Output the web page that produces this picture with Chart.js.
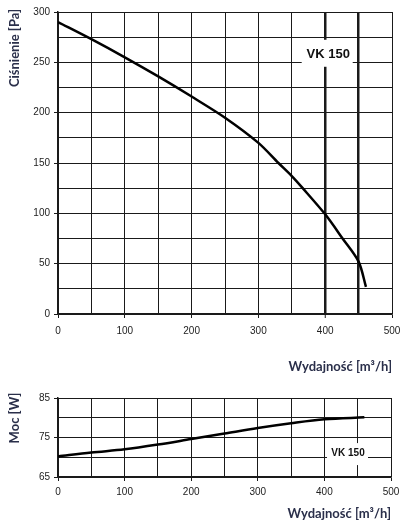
<!DOCTYPE html>
<html>
<head>
<meta charset="utf-8">
<script src="https://cdn.jsdelivr.net/npm/chart.js@4.4.0/dist/chart.umd.min.js"></script>
<style>
  html, body { margin: 0; padding: 0; background: #fff; }
  #wrap { position: relative; width: 401px; height: 528px; }
  #pressureChart { position: absolute; left: 0; top: 0; }
  #powerChart { position: absolute; left: 0; top: 378px; }
</style>
</head>
<body>
<div id="wrap">
  <canvas id="pressureChart" width="401" height="378"></canvas>
  <canvas id="powerChart" width="401" height="150"></canvas>
</div>
<script>
// pressure curve (Wydajność m3/h -> Ciśnienie Pa)
var flowPoints = [0, 50, 100, 150, 200, 250, 300, 330, 350, 365, 400, 426, 450, 461];
var pressureValues = [290, 273, 255, 236, 216, 195, 170, 150, 137, 126, 99, 75, 52, 27];

// power curve (Wydajność m3/h -> Moc W)
var powerFlowPoints = [0, 50, 100, 150, 200, 250, 300, 350, 400, 460];
var powerValues = [70.2, 71.2, 72.0, 73.2, 74.6, 76.0, 77.4, 78.6, 79.6, 80.1];

var flowTickLabels = [0, 100, 200, 300, 400, 500];
var pressureTickLabels = [0, 50, 100, 150, 200, 250, 300];
var powerTickLabels = [65, 75, 85];
var heavyFlowLines = [400, 450];
var modelName = 'VK 150';

var INK = '#1a1a1a';
var TITLE_COLOR = '#2a2f4a';
var TICK_FONT = { family: "'Liberation Sans', Arial, sans-serif", size: 10 };

Chart.defaults.color = '#222';
Chart.defaults.font.family = TICK_FONT.family;

function toPoints(xs, ys) {
  var pts = [];
  for (var i = 0; i < xs.length; i++) pts.push({ x: xs[i], y: ys[i] });
  return pts;
}

function labelled(list) {
  return function(ctx) {
    return ctx.tick && list.indexOf(ctx.tick.value) >= 0 ? INK : 'rgba(0,0,0,0)';
  };
}

// axis titles and the model label with its white gap in the grid
var chartText = {
  id: 'chartText',
  beforeDatasetsDraw: function(chart, args, opts) {
    var ctx = chart.ctx;
    var xs = chart.scales.x, ys = chart.scales.y;
    var cx = xs.getPixelForValue(opts.label[0]);
    var cy = ys.getPixelForValue(opts.label[1]);
    ctx.save();
    ctx.fillStyle = '#fff';
    ctx.fillRect(cx - opts.boxW / 2, cy - opts.boxH / 2, opts.boxW, opts.boxH);
    ctx.fillStyle = '#111';
    ctx.font = opts.labelFont;
    ctx.textAlign = 'center';
    ctx.textBaseline = 'middle';
    ctx.fillText(modelName, cx + opts.textDx, cy + opts.textDy);
    ctx.restore();
  },
  afterDraw: function(chart, args, opts) {
    var ctx = chart.ctx;
    ctx.save();
    ctx.fillStyle = TITLE_COLOR;
    ctx.font = "bold 13px Lato, sans-serif";
    ctx.textBaseline = 'middle';
    ctx.textAlign = 'right';
    ctx.fillText('Wydajność [m³/h]', chart.chartArea.right, opts.xTitleY);
    ctx.translate(opts.yTitleX, opts.yTitleY);
    ctx.rotate(-Math.PI / 2);
    ctx.textAlign = 'center';
    ctx.fillText(opts.yTitle, 0, 0);
    ctx.restore();
  }
};

function buildOptions(cfg) {
  return {
    responsive: false,
    animation: false,
    devicePixelRatio: 1,
    layout: { padding: cfg.padding },
    plugins: {
      legend: { display: false },
      tooltip: { enabled: false },
      chartText: cfg.text
    },
    elements: { point: { radius: 0 } },
    scales: {
      x: {
        type: 'linear',
        min: 0,
        max: 500,
        border: { color: INK, width: 1.5 },
        grid: {
          color: INK,
          lineWidth: cfg.xLineWidth,
          tickLength: 4,
          tickColor: labelled(flowTickLabels),
          tickWidth: 1
        },
        ticks: {
          stepSize: 50,
          padding: cfg.xTickPad,
          maxRotation: 0,
          autoSkip: false,
          font: TICK_FONT,
          callback: function(v) { return flowTickLabels.indexOf(v) >= 0 ? v : ''; }
        },
        afterFit: function(scale) {
          scale.height = cfg.xHeight;
          scale.paddingLeft = 0;
          scale.paddingRight = 0;
        }
      },
      y: {
        type: 'linear',
        min: cfg.yMin,
        max: cfg.yMax,
        border: { color: INK, width: 1.5 },
        grid: {
          color: INK,
          lineWidth: 1,
          tickLength: 4,
          tickColor: labelled(cfg.yLabels),
          tickWidth: 1
        },
        ticks: {
          stepSize: cfg.yStep,
          padding: 4,
          autoSkip: false,
          font: TICK_FONT,
          callback: function(v) { return cfg.yLabels.indexOf(v) >= 0 ? v : ''; }
        },
        afterFit: function(scale) {
          scale.width = 58;
          scale.paddingTop = 0;
          scale.paddingBottom = 0;
        }
      }
    }
  };
}

new Chart(document.getElementById('pressureChart'), {
  type: 'line',
  data: {
    datasets: [{
      data: toPoints(flowPoints, pressureValues),
      borderColor: '#000',
      borderWidth: 2.5,
      tension: 0.3,
      fill: false
    }]
  },
  options: buildOptions({
    padding: { left: 0, top: 12, right: 9, bottom: 0 },
    xHeight: 64,
    xTickPad: 7,
    yMin: 0, yMax: 300, yStep: 25,
    yLabels: pressureTickLabels,
    xLineWidth: function(ctx) {
      return ctx.tick && heavyFlowLines.indexOf(ctx.tick.value) >= 0 ? 2.5 : 1;
    },
    text: {
      yTitle: 'Ciśnienie [Pa]', yTitleX: 15, yTitleY: 48, xTitleY: 367,
      label: [403, 259], boxW: 51, boxH: 27, textDx: 1, textDy: 1.5,
      labelFont: 'bold 13px "Liberation Sans", Arial, sans-serif'
    }
  }),
  plugins: [chartText]
});

new Chart(document.getElementById('powerChart'), {
  type: 'line',
  data: {
    datasets: [{
      data: toPoints(powerFlowPoints, powerValues),
      borderColor: '#000',
      borderWidth: 2.5,
      cubicInterpolationMode: 'monotone',
      fill: false
    }]
  },
  options: buildOptions({
    padding: { left: 0, top: 20, right: 10, bottom: 0 },
    xHeight: 51,
    xTickPad: 5,
    yMin: 65, yMax: 85, yStep: 5,
    yLabels: powerTickLabels,
    xLineWidth: 1,
    text: {
      yTitle: 'Moc [W]', yTitleX: 15, yTitleY: 40, xTitleY: 136,
      label: [434.7, 70.8], boxW: 41, boxH: 22, textDx: 0.5, textDy: -1,
      labelFont: 'bold 10px "Liberation Sans", Arial, sans-serif'
    }
  }),
  plugins: [chartText]
});
</script>
</body>
</html>
